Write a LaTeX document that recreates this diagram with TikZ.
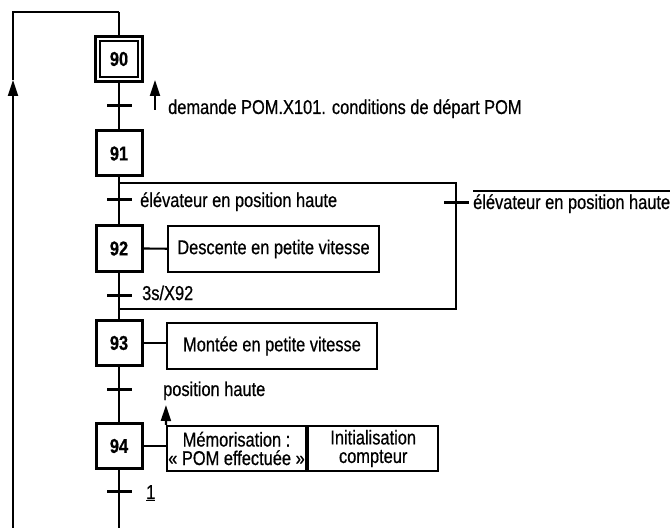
\documentclass[tikz,border=0pt]{standalone}
\usepackage{fontspec}
\setmainfont{Liberation Sans}[FakeStretch=0.82, FakeBold=0.6]
\usetikzlibrary{arrows.meta,calc}

\begin{document}
\begin{tikzpicture}[x=1bp,y=-1bp,
  txt/.style={font=\fontsize{20bp}{18.5bp}\selectfont},
  stepbox/.style={draw, line width=3bp, minimum width=46bp, minimum height=45bp,
    inner sep=0pt, font=\fontsize{20bp}{18.5bp}\selectfont\bfseries},
  initinner/.style={draw, line width=1.8bp, minimum width=37.5bp, minimum height=36.5bp,
    inner sep=0pt, font=\fontsize{20bp}{18.5bp}\selectfont\bfseries},
  link/.style={line width=2.2bp},
  trans/.style={fill=black, minimum width=25bp, minimum height=3bp, inner sep=0pt},
  actbox/.style={draw, line width=2.2bp, minimum height=46bp, inner sep=0pt, txt},
  lbl/.style={anchor=base west, inner sep=0pt, txt},
  up/.style={-{Triangle[length=16bp,width=10bp]}, line width=2.2bp}
]
\useasboundingbox (0,0) rectangle (670,528);

% steps (90 is the initial step: double frame)
\node[stepbox, minimum width=46.5bp, minimum height=45.5bp] (s90) at (119,59) {};
\node[initinner] (s90i) at (s90) {90};
\node[stepbox] (s91) at (119,153.5) {91};
\node[stepbox] (s92) at (119,248.5) {92};
\node[stepbox] (s93) at (119,343) {93};
\node[stepbox] (s94) at (119,446) {94};

% transitions
\node[trans] (t90) at (119,106) {};
\node[trans] (t91) at (119,200) {};
\node[trans] (t92) at (119,295) {};
\node[trans] (t93) at (119,389) {};
\node[trans] (t94) at (119,491) {};
\node[trans] (t91b) at (456,203) {};

% loop-back and main sequence
\coordinate (topL) at (13,12);
\coordinate (topR) at (119,12);
\coordinate (botL) at (13,528);
\coordinate (botR) at (119,528);
\coordinate (arrL) at (13,80);
\draw[link] (topR) -- (s90);
\draw[link] (s90) -- (s91);
\draw[link] (s91) -- (s92);
\draw[link] (s92) -- (s93);
\draw[link] (s93) -- (s94);
\draw[link] (s94) -- (botR);
\draw[link] (arrL) -- (topL) -- (topR);
\draw[up] (botL) -- (arrL);

% skip branch from 91 directly to 93
\coordinate (j1) at (119,183);
\coordinate (j2) at (456,183);
\coordinate (j3) at (456,309);
\coordinate (j4) at (119,309);
\draw[link] (j1) -- (j2) -- (j3) -- (j4);

% receptivities
\node[lbl] (r90) at (168,114) {demande POM.X101. conditions de départ POM};
\coordinate (a90b) at (155,110);
\coordinate (a90t) at (155,80);
\draw[up] (a90b) -- (a90t);
\node[lbl] (r91) at (140,207) {élévateur en position haute};
\node[lbl] (r91b) at (473,209) {élévateur en position haute};
\draw[line width=1.6bp] ([yshift=3bp]r91b.north west) -- ([yshift=3bp]r91b.north east);
\node[lbl] (r92) at (142,300) {3s/X92};
\node[lbl] (r93) at (163,396) {position haute};
\node[lbl] (r94) at (146,499) {\underline{1}};

% actions
\node[actbox, minimum width=211bp] (a92) at (273.5,249) {Descente en petite vitesse};
\draw[link] (s92) -- (a92);
\node[actbox, minimum width=210bp] (a93) at (272,346) {Montée en petite vitesse};
\draw[link] (s93.east) -- (s93.east -| a93.west);
\node[actbox, minimum width=139bp, minimum height=45bp, align=center] (a94a) at (236.5,448.5)
  {Mémorisation :\\« POM effectuée »};
\node[actbox, minimum width=130bp, minimum height=45bp, align=center, anchor=west] (a94b) at (a94a.east)
  {Initialisation\\compteur};
\draw[link] (s94.east) -- (s94.east -| a94a.west);
\coordinate (ph) at (166,405);
\draw[up] (a94a.north west) -- (ph);
\end{tikzpicture}
\end{document}
